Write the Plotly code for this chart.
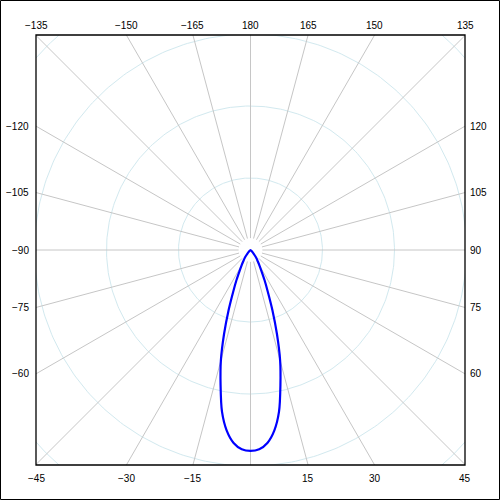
"""
Polar light distribution curve drawn on a square frame (C0-C180 style).
"""

import numpy as np
import plotly.graph_objects as go

# ---------------------------------------------------------------------------
# Data
# ---------------------------------------------------------------------------

# gamma angle (deg, 0 = straight down) and luminous intensity (arbitrary cd)
curve_angles = [-50, -45, -40, -37.5, -35, -32.5, -30, -27.5, -25, -22.5, -20,
                -17.5, -15, -12.5, -10, -7.5, -5, -2.5, 0, 2.5, 5, 7.5, 10,
                12.5, 15, 17.5, 20, 22.5, 25, 27.5, 30, 32.5, 35, 37.5, 40, 45, 50]
curve_values = [0, 3, 7, 11, 15, 19, 25, 33, 46, 63, 89,
                122, 159, 192, 228, 253, 269, 277, 279, 277, 269, 253, 228,
                192, 159, 122, 89, 63, 46, 33, 25, 19, 15, 11, 7, 3, 0]

# grid: intensity rings and radial angle lines
ring_values = [100, 200, 300, 400]
grid_angles = list(range(-180, 180, 15))

# angle labels around the frame (0 is not labelled)
label_angles = [-135, -150, -165, 180, 165, 150, 135,
                -120, -105, -90, -75, -60,
                120, 105, 90, 75, 60,
                -45, -30, -15, 15, 30, 45]
label_texts = ["\u2212135", "\u2212150", "\u2212165", "180", "165", "150", "135",
               "\u2212120", "\u2212105", "\u221290", "\u221275", "\u221260",
               "120", "105", "90", "75", "60",
               "\u221245", "\u221230", "\u221215", "15", "30", "45"]

# ---------------------------------------------------------------------------
# Geometry helpers
# ---------------------------------------------------------------------------

W, H = 500, 500
ML, MR, MT, MB = 36, 35, 35, 35
PX_PER_UNIT = 72 / 100
RX = (W - ML - MR) / 2 / PX_PER_UNIT
RY = (H - MT - MB) / 2 / PX_PER_UNIT


def polar_xy(angle_deg, r):
    a = np.radians(np.asarray(angle_deg, dtype=float))
    r = np.asarray(r, dtype=float)
    return r * np.sin(a), -r * np.cos(a)


fig = go.Figure()

# rings
theta = np.linspace(0, 360, 361)
for rv in ring_values:
    x, y = polar_xy(theta, [rv] * len(theta))
    fig.add_trace(go.Scatter(x=x, y=y, mode="lines", hoverinfo="skip",
                             line=dict(color="#d2e9ef", width=1)))

# radial lines (start a little away from the centre)
gx, gy = [], []
for a in grid_angles:
    x, y = polar_xy([a, a], [16.5, 700])
    gx += list(x) + [None]
    gy += list(y) + [None]
fig.add_trace(go.Scatter(x=gx, y=gy, mode="lines", hoverinfo="skip",
                         line=dict(color="#c6c6c6", width=1)))

# intensity curve
cx, cy = polar_xy(curve_angles, curve_values)
fig.add_trace(go.Scatter(x=cx, y=cy, mode="lines",
                         line=dict(color="#0000ff", width=2.2,
                                   shape="spline", smoothing=0.7),
                         hovertemplate="%{text}<extra></extra>",
                         text=[f"{a}\u00b0: {v}" for a, v in zip(curve_angles, curve_values)]))

# labels where each angle line meets the frame; corners go to top/bottom
for a, txt in zip(label_angles, label_texts):
    dx, dy = np.sin(np.radians(a)), -np.cos(np.radians(a))
    tx = RX / abs(dx) if abs(dx) > 1e-9 else np.inf
    ty = RY / abs(dy) if abs(dy) > 1e-9 else np.inf
    ann = dict(text=txt, showarrow=False, xref="paper", yref="paper",
               font=dict(family="Liberation Sans, Arial", size=10, color="black"))
    if ty <= tx * 1.01:
        ex, ey = dx * ty, np.sign(dy) * RY
        ann.update(xanchor="center", yanchor="middle",
                   yshift=10 if dy > 0 else -13)
    else:
        ex, ey = np.sign(dx) * RX, dy * tx
        ann.update(yanchor="middle",
                   xanchor="left" if dx > 0 else "right",
                   xshift=3 if dx > 0 else -5)
    ann.update(x=float(np.clip((ex + RX) / (2 * RX), 0, 1)),
               y=float(np.clip((ey + RY) / (2 * RY), 0, 1)))
    fig.add_annotation(**ann)

# inner frame and outer image border
fig.add_shape(type="rect", xref="paper", yref="paper", x0=0, x1=1, y0=0, y1=1,
              line=dict(color="black", width=1.3))
pw, ph = W - ML - MR, H - MT - MB
fig.add_shape(type="rect", xref="paper", yref="paper",
              x0=-(ML - 0.5) / pw, x1=1 + (MR - 0.5) / pw,
              y0=-(MB - 0.5) / ph, y1=1 + (MT - 0.5) / ph,
              line=dict(color="black", width=1))

fig.update_layout(
    width=W, height=H,
    margin=dict(l=ML, r=MR, t=MT, b=MB),
    paper_bgcolor="white", plot_bgcolor="white",
    showlegend=False,
    xaxis=dict(range=[-RX, RX], visible=False, fixedrange=True),
    yaxis=dict(range=[-RY, RY], visible=False, fixedrange=True),
)

# drop the default page margin so the 500x500 figure fills the window
fig.write_html("out.html", config={"displayModeBar": False},
               post_script="document.body.style.margin='0';"
                           "document.body.style.overflow='hidden';")
